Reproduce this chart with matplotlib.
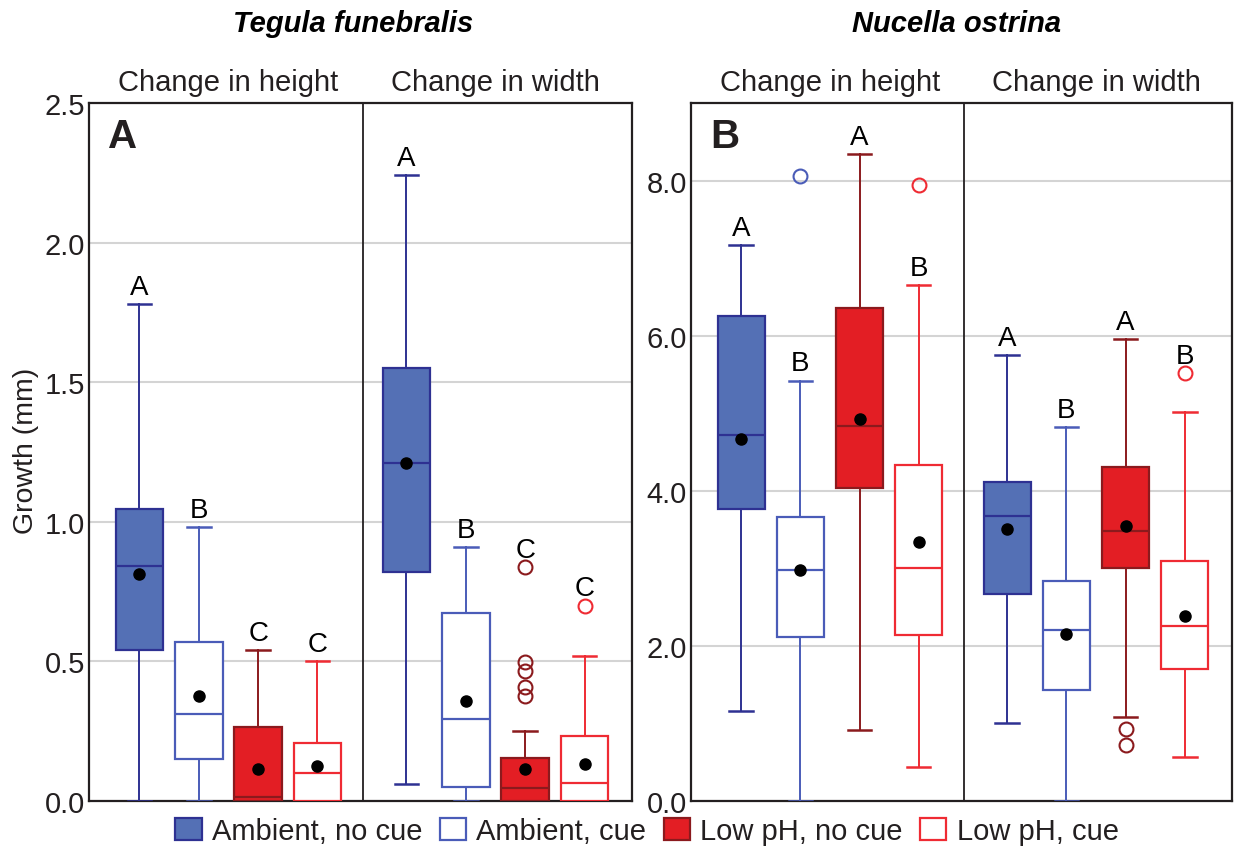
import matplotlib
matplotlib.use("Agg")
import matplotlib.pyplot as plt
from matplotlib.patches import Patch
from matplotlib.transforms import blended_transform_factory

plt.rcParams["font.family"] = ["Liberation Sans", "DejaVu Sans"]

# treatments, in drawing order
groups = ["Ambient, no cue", "Ambient, cue", "Low pH, no cue", "Low pH, cue"]

# Tegula funebralis (panel A): box stats (mm)
# order per list: height x4, then width x4
teg_q1 = [0.54, 0.15, 0.0, 0.0, 0.82, 0.05, 0.0, 0.0]
teg_med = [0.84, 0.31, 0.013, 0.10, 1.21, 0.295, 0.048, 0.063]
teg_q3 = [1.045, 0.57, 0.264, 0.209, 1.55, 0.675, 0.153, 0.234]
teg_lo = [0.0, 0.0, 0.0, 0.0, 0.06, 0.0, 0.0, 0.0]
teg_hi = [1.78, 0.98, 0.54, 0.50, 2.243, 0.91, 0.249, 0.519]
teg_mean = [0.814, 0.376, 0.115, 0.124, 1.21, 0.357, 0.113, 0.133]
teg_fliers = [[], [], [], [], [], [], [0.839, 0.499, 0.467, 0.407, 0.377], [0.70]]
teg_letters = ["A", "B", "C", "C", "A", "B", "C", "C"]
teg_letter_on = [1.78, 0.98, 0.54, 0.50, 2.243, 0.91, 0.839, 0.70]

# Nucella ostrina (panel B)
nuc_q1 = [3.77, 2.11, 4.04, 2.14, 2.67, 1.43, 3.0, 1.70]
nuc_med = [4.72, 2.98, 4.83, 3.0, 3.68, 2.20, 3.48, 2.26]
nuc_q3 = [6.26, 3.66, 6.36, 4.33, 4.11, 2.84, 4.31, 3.10]
nuc_lo = [1.16, 0.0, 0.92, 0.44, 1.01, 0.0, 1.08, 0.57]
nuc_hi = [7.17, 5.42, 8.34, 6.65, 5.75, 4.82, 5.96, 5.01]
nuc_mean = [4.67, 2.98, 4.92, 3.34, 3.51, 2.15, 3.54, 2.38]
nuc_fliers = [[], [8.06], [], [7.94], [], [], [0.93, 0.72], [5.52]]
nuc_letters = ["A", "B", "A", "B", "A", "B", "A", "B"]
nuc_letter_on = [7.17, 5.42, 8.34, 6.65, 5.75, 4.82, 5.96, 5.52]

positions = [1, 2, 3, 4, 5.5, 6.5, 7.5, 8.5]
sections = ["Change in height", "Change in width"]

fills = ["#5470b5", "white", "#e31e24", "white"]
edges = ["#2e3192", "#4a5cb8", "#8b1a1d", "#ef2b33"]
text_col = "#231f20"


def draw_panel(ax, q1, med, q3, lo, hi, mean, fliers, letters, letter_on, ylim, yticks, tag):
    stats = []
    for i in range(8):
        stats.append(dict(q1=q1[i], med=med[i], q3=q3[i], whislo=lo[i], whishi=hi[i],
                          mean=mean[i], fliers=fliers[i]))
    for i in range(8):
        g = i % 4
        c = edges[g]
        ax.bxp([stats[i]], positions=[positions[i]], widths=0.8, capwidths=0.4,
               showmeans=True, patch_artist=True, manage_ticks=False,
               boxprops=dict(facecolor=fills[g], edgecolor=c, linewidth=1.6),
               medianprops=dict(color=c, linewidth=1.6),
               whiskerprops=dict(color=c, linewidth=1.4),
               capprops=dict(color=c, linewidth=1.8),
               meanprops=dict(marker="o", markerfacecolor="black", markeredgecolor="black",
                              markersize=8),
               flierprops=dict(marker="o", markerfacecolor="none", markeredgecolor=c,
                               markersize=10, markeredgewidth=1.5),
               zorder=3)
        ax.annotate(letters[i], (positions[i], letter_on[i]), xytext=(0, 3),
                    textcoords="offset points", ha="center", va="bottom",
                    fontsize=20, color="black", zorder=4)

    ax.set_xlim(0.15, 9.3)
    ax.set_ylim(*ylim)
    ax.set_yticks(yticks)
    ax.set_yticklabels([f"{t:.1f}" for t in yticks])
    ax.set_xticks([])
    ax.tick_params(axis="y", length=0, pad=3, labelsize=21, labelcolor=text_col)
    ax.grid(axis="y", color="#d4d4d4", linewidth=1.5, zorder=0)
    ax.set_axisbelow(True)
    for s in ax.spines.values():
        s.set_linewidth(1.6)
        s.set_color(text_col)
    ax.axvline(4.77, color=text_col, linewidth=1.3, zorder=2)

    tr = blended_transform_factory(ax.transData, ax.transAxes)
    ax.text(2.5, 1.01, sections[0], transform=tr, ha="center", va="bottom",
            fontsize=21, color=text_col)
    ax.text(7.0, 1.01, sections[1], transform=tr, ha="center", va="bottom",
            fontsize=21, color=text_col)
    ax.text(0.035, 0.98, tag, transform=ax.transAxes, ha="left", va="top",
            fontsize=29, fontweight="bold", color=text_col)


fig = plt.figure(figsize=(12.36, 8.54), dpi=100)
axA = fig.add_axes([89 / 1236, 1 - 802 / 854, 543 / 1236, 698 / 854])
axB = fig.add_axes([691 / 1236, 1 - 802 / 854, 541 / 1236, 698 / 854])

draw_panel(axA, teg_q1, teg_med, teg_q3, teg_lo, teg_hi, teg_mean, teg_fliers,
           teg_letters, teg_letter_on, (0, 2.5), [0.0, 0.5, 1.0, 1.5, 2.0, 2.5], "A")
draw_panel(axB, nuc_q1, nuc_med, nuc_q3, nuc_lo, nuc_hi, nuc_mean, nuc_fliers,
           nuc_letters, nuc_letter_on, (0, 9.0), [0.0, 2.0, 4.0, 6.0, 8.0], "B")

axA.set_ylabel("Growth (mm)", fontsize=20.5, color=text_col)
axA.yaxis.set_label_coords(-0.092, 0.503)

fig.text(353 / 1236, 1 - 24 / 854, "Tegula funebralis", ha="center", va="center",
         fontsize=21, fontweight="bold", fontstyle="italic", color="black")
fig.text(957 / 1236, 1 - 24 / 854, "Nucella ostrina", ha="center", va="center",
         fontsize=21, fontweight="bold", fontstyle="italic", color="black")

handles = [Patch(facecolor=fills[i], edgecolor=edges[i], linewidth=1.6) for i in range(4)]
fig.legend(handles, groups, loc="center", bbox_to_anchor=(647 / 1236, 22 / 854), ncol=4,
           frameon=False, fontsize=21, handlelength=0.9, handleheight=0.75,
           handletextpad=0.35, columnspacing=0.6, labelcolor=text_col,
           borderpad=0, borderaxespad=0)

fig.savefig("out.png", dpi=100)
